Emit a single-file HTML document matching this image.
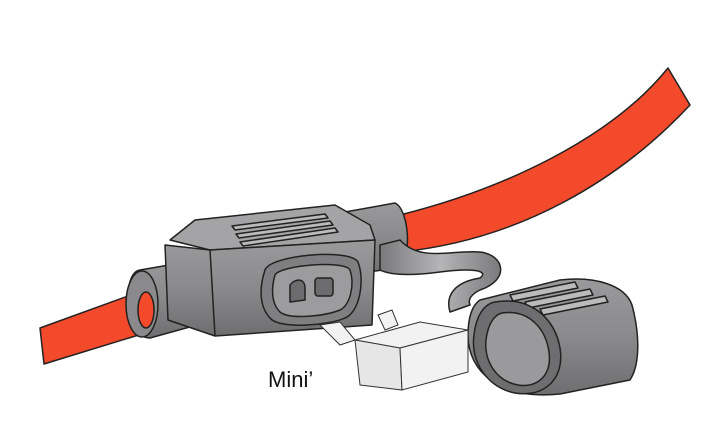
<!DOCTYPE html>
<html><head><style>
html,body{margin:0;padding:0;background:#fff;width:715px;height:426px;overflow:hidden}
</style></head><body>
<svg width="715" height="426" viewBox="0 0 715 426" xmlns="http://www.w3.org/2000/svg">
<defs>
<linearGradient id="g" x1="0" y1="0" x2="0" y2="1">
<stop offset="0" stop-color="#9a9a9c"/><stop offset="0.5" stop-color="#8a8a8c"/><stop offset="1" stop-color="#6e6e70"/>
</linearGradient>
<linearGradient id="gh" x1="0" y1="0" x2="1" y2="0">
<stop offset="0" stop-color="#7a7a7c"/><stop offset="0.5" stop-color="#b5b5b7"/><stop offset="1" stop-color="#7a7a7c"/>
</linearGradient>
</defs>
<g stroke="#222" stroke-width="1.5" stroke-linejoin="round">
<path d="M400 215 C500 190 610 140 668 68 L690 105 C620 180 520 240 400 252 Z" fill="#f24a2a"/>
<path d="M40 328 L150 288 L155 330 L44 364 Z" fill="#f24a2a"/>
<path d="M345 212 L395 203 C410 210 412 262 398 268 L345 275 Z" fill="url(#g)"/>
<path d="M380 245 L400 240 C420 262 450 250 480 252 C505 255 510 280 480 290 C470 295 468 300 470 305 L450 312 C445 295 455 282 480 278 C490 270 470 268 440 272 C410 276 390 275 380 270 Z" fill="url(#gh)"/>
<path d="M140 270 L210 258 L215 320 L150 338 C122 338 122 272 140 270 Z" fill="url(#g)"/>
<ellipse cx="142" cy="304" rx="16" ry="33" fill="#8a8a8c"/>
<ellipse cx="146" cy="310" rx="8" ry="18" fill="#f24a2a"/>
<path d="M170 240 L195 220 L335 205 L370 225 L375 240 L210 250 Z" fill="#a4a4a6"/>
<path d="M165 245 L210 250 L375 240 L372 325 L215 336 L168 320 Z" fill="url(#g)"/>
<path d="M210 250 L215 336" fill="none"/>
<g fill="#bbb">
<path d="M240 242 L335 228 L338 232 L243 246 Z"/>
<path d="M236 234 L330 221 L333 225 L239 238 Z"/>
<path d="M232 226 L325 214 L328 218 L235 230 Z"/>
</g>
<path d="M265 270 C270 255 350 248 358 262 C365 280 360 312 345 318 C330 325 280 330 270 318 C258 305 260 285 265 270 Z" fill="#7f7f81"/>
<path d="M275 275 C280 265 345 260 350 270 C355 285 350 305 340 310 C325 316 290 320 280 312 C270 302 272 285 275 275 Z" fill="#9c9c9e"/>
<path d="M290 285 C295 278 305 278 305 288 L305 300 L290 302 Z" fill="#6c6c6e"/>
<rect x="315" y="278" width="18" height="18" rx="3" fill="#6c6c6e"/>
<path d="M480 300 L560 280 C595 276 625 285 632 305 C640 335 640 365 630 380 L560 394 C500 400 468 372 468 335 C468 318 472 305 480 300 Z" fill="url(#g)"/>
<g fill="#bbb">
<path d="M510 295 L575 282 L578 288 L513 301 Z"/>
<path d="M525 302 L590 289 L593 295 L528 308 Z"/>
<path d="M540 309 L605 296 L608 302 L543 315 Z"/>
</g>
<path d="M495 302 C530 296 555 318 560 348 C565 378 545 398 515 393 C488 388 470 362 474 335 C476 316 484 304 495 302 Z" fill="#6e6e70"/>
<path d="M502 313 C530 309 546 330 549 352 C552 375 538 388 518 385 C496 381 484 361 486 340 C488 324 494 315 502 313 Z" fill="#9a9a9c"/>
</g>
<g stroke="#333" stroke-width="1" fill="#f2f2f2">
<path d="M320 325 L340 322 L355 340 L340 345 Z"/>
<path d="M378 315 L392 310 L398 325 L385 330 Z"/>
<path d="M355 340 L420 322 L468 330 L400 348 Z"/>
<path d="M355 340 L400 348 L402 390 L360 385 Z" fill="#e6e6e6"/>
<path d="M400 348 L468 330 L468 372 L402 390 Z"/>
</g>
<text x="268" y="387" font-family="Liberation Sans, sans-serif" font-size="22" fill="#111">Mini’</text>
</svg>
</body></html>
